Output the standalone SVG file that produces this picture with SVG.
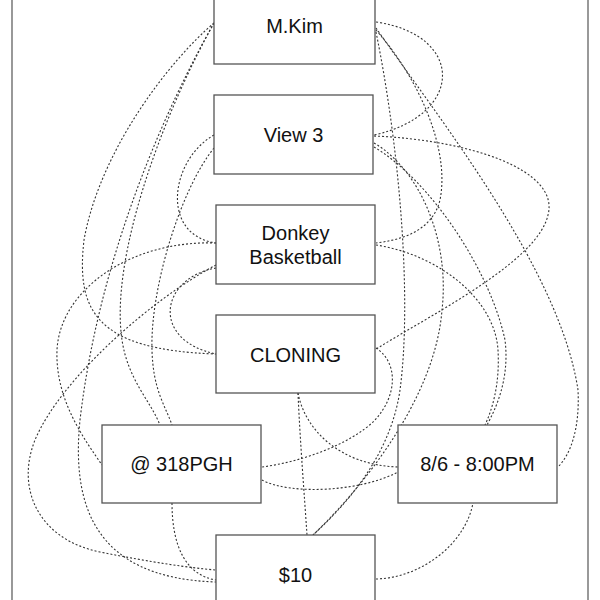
<svg xmlns="http://www.w3.org/2000/svg" width="600" height="600" viewBox="0 0 600 600">
<style>
.frame{fill:none;stroke:#555;stroke-width:1.2}
.box{fill:#fff;stroke:#555;stroke-width:1.3}
.lbl{font-family:"Liberation Sans",Arial,Helvetica,sans-serif;font-size:20px;fill:#111;text-anchor:middle}
.edge{fill:none;stroke:#333;stroke-width:1.1;stroke-dasharray:2 2}
</style>
<rect width="600" height="600" fill="#fff"/>
<rect class="frame" x="12" y="-5" width="576" height="615"/>
<g id="connectors">
<path class="edge" d="M214,23 C170,60 100,150 84,240 C76,310 95,350 216,354"/>
<path class="edge" d="M214,23 C170,100 100,250 80,420 C72,500 90,578 216,582"/>
<path class="edge" d="M214,23 C160,120 110,260 122,340 C128,380 150,400 160,425"/>
<path class="edge" d="M214,135 C170,160 160,235 216,243"/>
<path class="edge" d="M214,148 C180,190 150,290 152,350 C153,390 165,405 172,425"/>
<path class="edge" d="M216,243 C130,240 60,290 57,350 C55,400 85,440 102,465"/>
<path class="edge" d="M216,265 C150,300 60,380 35,440 C15,490 40,540 100,552 C150,562 190,568 216,570"/>
<path class="edge" d="M216,268 C160,278 150,340 216,354"/>
<path class="edge" d="M376,22 C465,35 465,115 374,135"/>
<path class="edge" d="M376,28 C440,120 560,270 578,390 C580,430 570,455 558,467"/>
<path class="edge" d="M376,30 C420,80 450,150 440,200 C432,232 400,240 376,243"/>
<path class="edge" d="M376,32 C400,150 412,300 400,390 C390,460 340,510 313,535"/>
<path class="edge" d="M374,136 C470,140 560,170 548,215 C538,260 440,310 376,349"/>
<path class="edge" d="M374,147 C430,180 490,270 505,340 C510,380 495,410 487,425"/>
<path class="edge" d="M374,143 C420,170 450,240 442,310 C435,400 360,490 313,535"/>
<path class="edge" d="M376,245 C440,255 495,300 498,350 C500,385 492,410 485,425"/>
<path class="edge" d="M376,348 C398,362 398,395 375,420 C350,445 300,462 262,467"/>
<path class="edge" d="M298,393 C305,430 340,465 398,467"/>
<path class="edge" d="M298,393 C300,440 304,490 307,535"/>
<path class="edge" d="M262,480 C290,495 360,492 398,472"/>
<path class="edge" d="M172,503 C172,545 185,575 216,580"/>
<path class="edge" d="M376,579 C420,578 465,545 473,503"/>
</g>
<g id="n-mkim"><rect class="box" x="214" y="-14" width="161" height="78"/><text class="lbl" x="294.5" y="33">M.Kim</text></g>
<g id="n-view3"><rect class="box" x="214" y="95" width="159" height="79"/><text class="lbl" x="293.5" y="141.5">View 3</text></g>
<g id="n-donkey"><rect class="box" x="216" y="205" width="159" height="79"/><text class="lbl" x="295.5" y="240">Donkey</text><text class="lbl" x="295.5" y="263.5">Basketball</text></g>
<g id="n-cloning"><rect class="box" x="216" y="315" width="159" height="78"/><text class="lbl" x="295.5" y="361.5">CLONING</text></g>
<g id="n-318pgh"><rect class="box" x="102" y="425" width="159" height="78"/><text class="lbl" x="181.5" y="471">@ 318PGH</text></g>
<g id="n-date"><rect class="box" x="398" y="425" width="159" height="78"/><text class="lbl" x="477.5" y="471">8/6 - 8:00PM</text></g>
<g id="n-price"><rect class="box" x="216" y="535" width="159" height="78"/><text class="lbl" x="295.5" y="581.5">$10</text></g>
</svg>
